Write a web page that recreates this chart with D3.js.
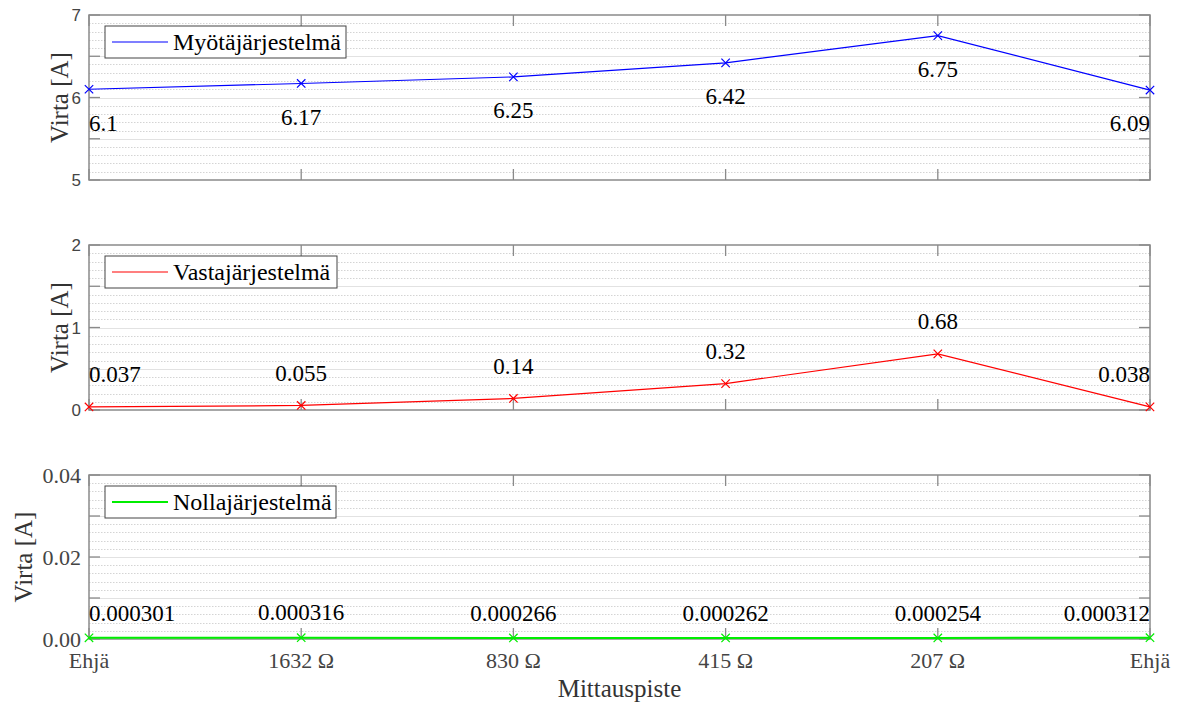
<!DOCTYPE html>
<html>
<head>
<meta charset="utf-8">
<script src="https://cdn.jsdelivr.net/npm/d3@7"></script>
<style>
  html, body { margin: 0; padding: 0; background: #fff; }
  svg { display: block; }
  .serif { font-family: "Liberation Serif", "Times New Roman", Times, "DejaVu Serif", serif; }
  .sans { font-family: "Liberation Sans", Arial, Helvetica, sans-serif; }
</style>
</head>
<body>
<svg id="chart" width="1183" height="706"></svg>
<script>
// Measurement points along the line
const categories = ["Ehjä", "1632 Ω", "830 Ω", "415 Ω", "207 Ω", "Ehjä"];

// Symmetrical component currents [A]
const positiveSeq = [6.1, 6.17, 6.25, 6.42, 6.75, 6.09];
const negativeSeq = [0.037, 0.055, 0.14, 0.32, 0.68, 0.038];
const zeroSeq = [0.000301, 0.000316, 0.000266, 0.000262, 0.000254, 0.000312];

const positiveLabels = ["6.1", "6.17", "6.25", "6.42", "6.75", "6.09"];
const negativeLabels = ["0.037", "0.055", "0.14", "0.32", "0.68", "0.038"];
const zeroLabels = ["0.000301", "0.000316", "0.000266", "0.000262", "0.000254", "0.000312"];

// Y tick labels per panel
const posTickLabels = ["5", "6", "7"];
const negTickLabels = ["0", "1", "2"];
const zeroTickLabels = ["0.00", "0.02", "0.04"];

const svg = d3.select("#chart");
const left = 89, right = 1150;
const axisColor = "#8a8a8a";

const x = d3.scalePoint()
  .domain(d3.range(categories.length))
  .range([left, right]);

const panels = [
  {
    top: 15, bottom: 180, domain: [5, 7], values: positiveSeq, labels: positiveLabels,
    majorStep: 0.5, minorStep: 0.1, tickLabels: posTickLabels, tickClass: "sans", tickSize: 17,
    labelOffset: -0.5, color: "#0000ff", width: 1.2, name: "Myötäjärjestelmä",
    legendW: 241, ylabelX: 59
  },
  {
    top: 245, bottom: 410, domain: [0, 2], values: negativeSeq, labels: negativeLabels,
    majorStep: 0.5, minorStep: 0.1, tickLabels: negTickLabels, tickClass: "sans", tickSize: 17,
    labelOffset: 0.3, color: "#ff0000", width: 1.2, name: "Vastajärjestelmä",
    legendW: 232, ylabelX: 59
  },
  {
    top: 475, bottom: 639, domain: [0, 0.04], values: zeroSeq, labels: zeroLabels,
    majorStep: 0.01, minorStep: 0.002, tickLabels: zeroTickLabels, tickClass: "serif", tickSize: 22,
    labelOffset: 0.0042, color: "#00ee00", width: 2, name: "Nollajärjestelmä",
    legendW: 231, ylabelX: 23
  }
];

panels.forEach((p, pi) => {
  const g = svg.append("g");
  const y = d3.scaleLinear().domain(p.domain).range([p.bottom, p.top]);
  const [d0, d1] = p.domain;

  // minor grid (dotted)
  const nMinor = Math.round((d1 - d0) / p.minorStep);
  const minorVals = d3.range(1, nMinor).map(i => d0 + i * p.minorStep)
    .filter(v => Math.abs(((v - d0) / p.majorStep) - Math.round((v - d0) / p.majorStep)) > 1e-6);
  g.selectAll(".minor").data(minorVals).join("line")
    .attr("x1", left).attr("x2", right)
    .attr("y1", d => Math.round(y(d)) + 0.5).attr("y2", d => Math.round(y(d)) + 0.5)
    .attr("stroke", "#d4d4d4").attr("stroke-width", 1)
    .attr("stroke-dasharray", "1.5,1.5");

  // major grid (solid)
  const nMajor = Math.round((d1 - d0) / p.majorStep);
  const majorVals = d3.range(1, nMajor).map(i => d0 + i * p.majorStep);
  g.selectAll(".major").data(majorVals).join("line")
    .attr("x1", left).attr("x2", right)
    .attr("y1", d => Math.round(y(d)) + 0.5).attr("y2", d => Math.round(y(d)) + 0.5)
    .attr("stroke", "#e2e2e2").attr("stroke-width", 1.2);

  // y tick marks on left and right edges
  const allMajor = d3.range(0, nMajor + 1).map(i => d0 + i * p.majorStep);
  g.selectAll(".ytl").data(allMajor).join("line")
    .attr("x1", left).attr("x2", left + 11)
    .attr("y1", d => y(d)).attr("y2", d => y(d))
    .attr("stroke", axisColor).attr("stroke-width", 1.3);
  g.selectAll(".ytr").data(allMajor).join("line")
    .attr("x1", right - 11).attr("x2", right)
    .attr("y1", d => y(d)).attr("y2", d => y(d))
    .attr("stroke", axisColor).attr("stroke-width", 1.3);

  // x tick marks at top and bottom
  const idx = d3.range(categories.length);
  g.selectAll(".xtt").data(idx).join("line")
    .attr("x1", d => x(d)).attr("x2", d => x(d))
    .attr("y1", p.top).attr("y2", p.top + 11)
    .attr("stroke", axisColor).attr("stroke-width", 1.3);
  g.selectAll(".xtb").data(idx).join("line")
    .attr("x1", d => x(d)).attr("x2", d => x(d))
    .attr("y1", p.bottom - 11).attr("y2", p.bottom)
    .attr("stroke", axisColor).attr("stroke-width", 1.3);

  // box
  g.append("rect")
    .attr("x", left).attr("y", p.top)
    .attr("width", right - left).attr("height", p.bottom - p.top)
    .attr("fill", "none").attr("stroke", axisColor).attr("stroke-width", 1.5);

  // y tick labels
  const labelVals = [d0, (d0 + d1) / 2, d1];
  g.selectAll(".ylab").data(labelVals).join("text")
    .attr("class", p.tickClass)
    .attr("x", 81).attr("y", d => y(d))
    .attr("dy", "0.36em")
    .attr("text-anchor", "end")
    .attr("font-size", p.tickSize)
    .attr("fill", "#444")
    .text((d, i) => p.tickLabels[i]);

  // y axis title
  g.append("text")
    .attr("class", "serif")
    .attr("transform", `translate(${p.ylabelX},${(p.top + p.bottom) / 2}) rotate(-90)`)
    .attr("dy", "0.35em")
    .attr("text-anchor", "middle")
    .attr("font-size", 25)
    .attr("fill", "#333")
    .text("Virta [A]");

  // series line
  const line = d3.line().x((d, i) => x(i)).y(d => y(d));
  g.append("path")
    .datum(p.values)
    .attr("d", line)
    .attr("fill", "none")
    .attr("stroke", p.color).attr("stroke-width", p.width);

  // x markers
  const m = 4.2;
  g.selectAll(".mk").data(p.values).join("path")
    .attr("d", (d, i) => {
      const cx = x(i), cy = y(d);
      return `M${cx - m},${cy - m}L${cx + m},${cy + m}M${cx - m},${cy + m}L${cx + m},${cy - m}`;
    })
    .attr("stroke", p.color).attr("stroke-width", 1.2).attr("fill", "none");

  // value labels
  g.selectAll(".vl").data(p.values).join("text")
    .attr("class", "serif")
    .attr("x", (d, i) => x(i))
    .attr("y", d => y(d + p.labelOffset))
    .attr("text-anchor", (d, i) => i === 0 ? "start" : (i === p.values.length - 1 ? "end" : "middle"))
    .attr("font-size", 23)
    .attr("fill", "#000")
    .text((d, i) => p.labels[i]);

  // legend
  const lx = 105, ly = p.top + 11;
  const lg = g.append("g");
  lg.append("rect")
    .attr("x", lx).attr("y", ly)
    .attr("width", p.legendW).attr("height", 32)
    .attr("fill", "#fff").attr("stroke", "#444").attr("stroke-width", 1);
  lg.append("line")
    .attr("x1", lx + 7).attr("x2", lx + 63)
    .attr("y1", ly + 16).attr("y2", ly + 16)
    .attr("stroke", p.color).attr("stroke-width", p.width);
  lg.append("text")
    .attr("class", "serif")
    .attr("x", lx + 68).attr("y", ly + 16)
    .attr("dy", "0.35em")
    .attr("font-size", 24)
    .attr("fill", "#000")
    .text(p.name);

  // x tick labels only under the bottom panel
  if (pi === panels.length - 1) {
    g.selectAll(".xl").data(idx).join("text")
      .attr("class", "serif")
      .attr("x", d => x(d)).attr("y", p.bottom + 29)
      .attr("text-anchor", "middle")
      .attr("font-size", 22)
      .attr("fill", "#444")
      .text(d => categories[d]);
    g.append("text")
      .attr("class", "serif")
      .attr("x", (left + right) / 2).attr("y", p.bottom + 58)
      .attr("text-anchor", "middle")
      .attr("font-size", 25)
      .attr("fill", "#333")
      .text("Mittauspiste");
  }
});
</script>
</body>
</html>
